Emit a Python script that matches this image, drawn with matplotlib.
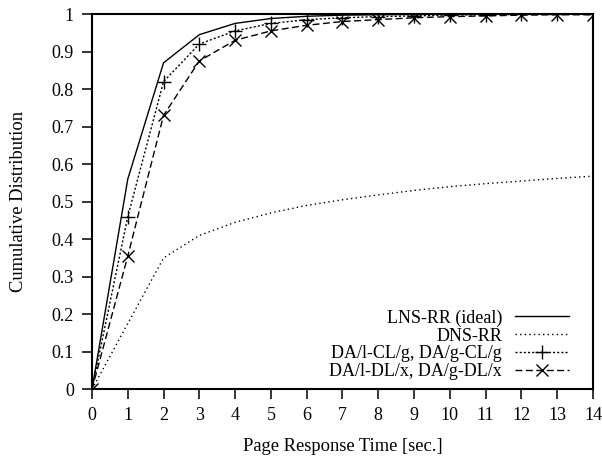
import numpy as np
import matplotlib.pyplot as plt

plt.rcParams['font.family'] = ['Liberation Serif', 'DejaVu Serif']

# response time [sec.]
t = list(range(0, 15))

lns_rr = [0, 0.56, 0.87, 0.945, 0.975, 0.988, 0.994, 0.997, 0.998, 0.999, 0.999, 1.0, 1.0, 1.0, 1.0]
dns_rr = [0, 0.175, 0.35, 0.41, 0.445, 0.47, 0.49, 0.505, 0.518, 0.53, 0.54, 0.548, 0.555, 0.562, 0.568]
da_cl = [0, 0.46, 0.82, 0.92, 0.955, 0.975, 0.985, 0.99, 0.993, 0.995, 0.997, 0.998, 0.999, 0.999, 1.0]
da_dl = [0, 0.355, 0.73, 0.875, 0.93, 0.955, 0.97, 0.98, 0.985, 0.99, 0.993, 0.995, 0.997, 0.998, 0.998]

fig = plt.figure(figsize=(6.02, 4.61), dpi=100)
ax = fig.add_axes([0.1528, 0.1555, 0.8322, 0.8141])

ax.plot(t, lns_rr, color='black', lw=1, ls='-', label='LNS-RR (ideal)')
ax.plot(t, dns_rr, color='black', lw=1, ls=(0, (1, 2.3)), label='DNS-RR')
ax.plot(t, da_cl, color='black', lw=1, ls=(0, (1.5, 1.5)), marker='+', ms=10, mew=1,
        label='DA/l-CL/g, DA/g-CL/g')
ax.plot(t, da_dl, color='black', lw=1, ls=(0, (5, 2.5)), marker='x', ms=9, mew=1,
        label='DA/l-DL/x, DA/g-DL/x')

ax.set_xlim(0, 14)
ax.set_ylim(0, 1)
ax.set_xticks(range(0, 15))
yt = np.arange(0, 11) / 10
ax.set_yticks(yt)
ax.set_yticklabels(['0'] + ['%.1f' % v for v in yt[1:-1]] + ['1'])

ax.tick_params(direction='out', length=7, width=1.1, pad=6, labelsize=13)
for s in ax.spines.values():
    s.set_linewidth(1.5)

ax.set_xlabel('Page Response Time [sec.]', fontsize=13.3, labelpad=10)
ax.set_ylabel('Cumulative Distribution', fontsize=13.3, labelpad=18)

ax.legend(loc='lower right', bbox_to_anchor=(0.952, 0.024), frameon=False,
          markerfirst=False, fontsize=13, handlelength=3.0, labelspacing=0.05,
          handletextpad=0.7, borderaxespad=0, borderpad=0)

fig.savefig('out.png', dpi=100)
